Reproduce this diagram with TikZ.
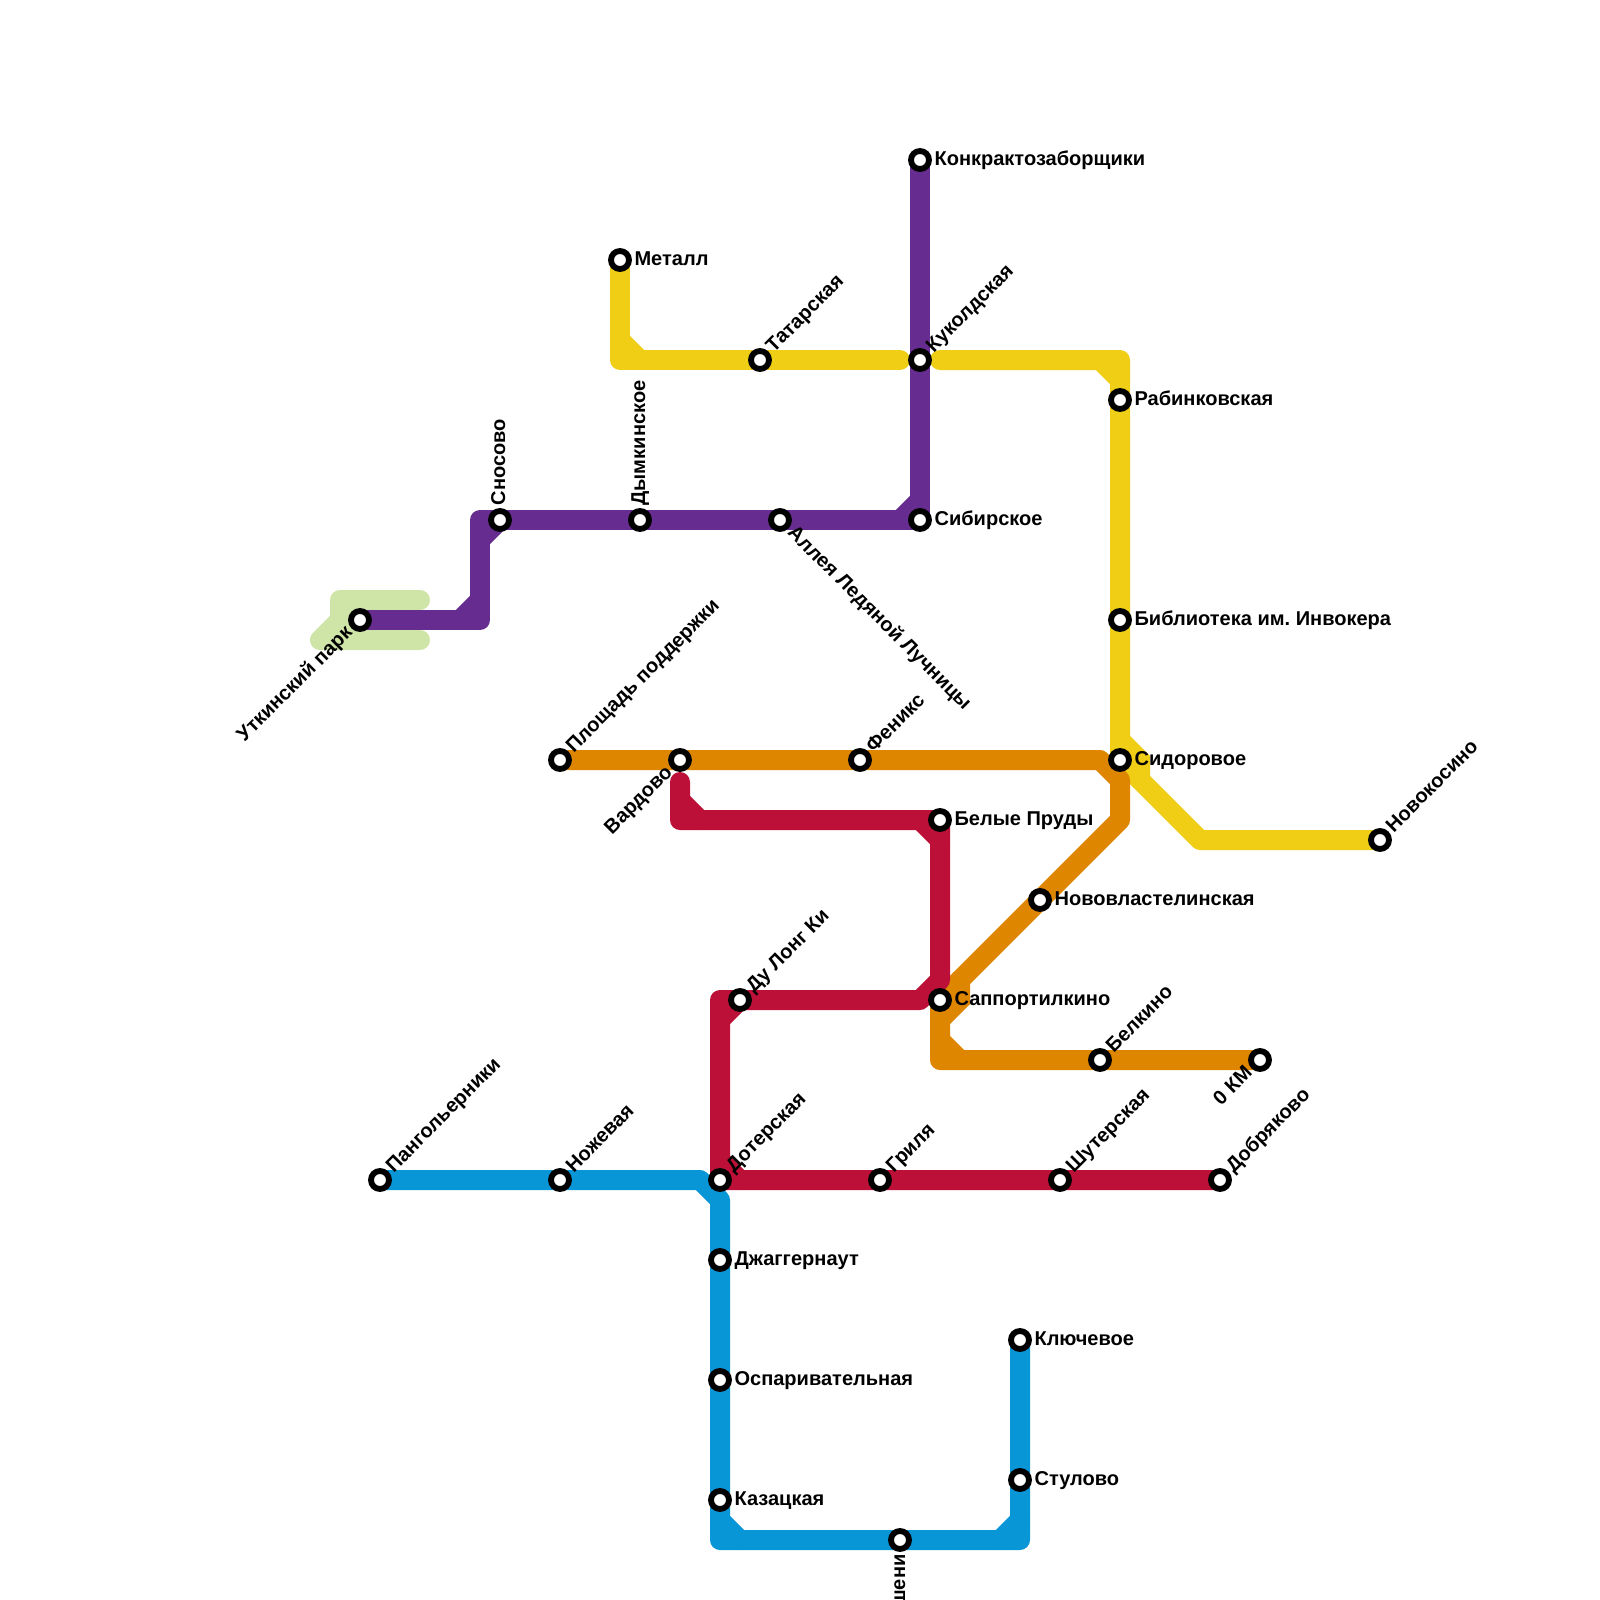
\documentclass[tikz,border=0pt]{standalone}
\usepackage{fontspec}
\setmainfont{Liberation Sans}
\usepackage{tikz}
\usetikzlibrary{backgrounds}
\def\rescale{0.25}
\definecolor{linegreen}{HTML}{CFE4A7}
\definecolor{linepurple}{HTML}{662C90}
\definecolor{lineyellow}{HTML}{F0CE15}
\definecolor{lineorange}{HTML}{DF8600}
\definecolor{linered}{HTML}{BD1038}
\definecolor{lineblue}{HTML}{0896D7}
\tikzset{
  metro/.style={line width=\rescale cm, line cap=round, line join=round},
  stop/.style={circle, draw=black, fill=white, line width=0.073cm, minimum size=0.225cm, inner sep=0pt},
  lbl/.style={font=\fontsize{7.12}{8}\bfseries\selectfont, inner xsep=0.175cm, inner ysep=0pt, text height=0.18cm, text depth=0.055cm}
}

\begin{document}
\begin{tikzpicture}[x=\rescale cm, y=-\rescale cm]

    \useasboundingbox (0, 0) rectangle (80, 80);

\foreach \x/\y/\nm/\txt in {46/8/konk/Конкрактозаборщики, 31/13/metall/Металл, 56/20/rabin/Рабинковская,
    46/26/sibir/Сибирское, 56/31/bibl/Библиотека им.\ Инвокера, 56/38/sidor/Сидоровое,
    47/41/prudy/Белые Пруды, 52/45/novovl/Нововластелинская, 47/50/sapp/Саппортилкино,
    36/63/dzhag/Джаггернаут, 36/69/ospar/Оспаривательная, 36/75/kazak/Казацкая,
    51/67/klyuch/Ключевое, 51/74/stul/Стулово} {
      \node[stop] (\nm) at (\x, \y) {};
      \node[lbl, anchor=west] (\nm-t) at (\nm.center) {\txt};
}

\foreach \x/\y/\nm/\txt in {46/18/kukold/Куколдская, 38/18/tatar/Татарская, 28/38/plosh/Площадь поддержки,
    43/38/feniks/Феникс, 69/42/novokos/Новокосино, 37/50/dulong/Ду Лонг Ки, 55/53/belkino/Белкино,
    19/59/pangol/Пангольерники, 28/59/nozh/Ножевая, 36/59/doter/Дотерская, 44/59/grilya/Гриля,
    53/59/shuter/Шутерская, 61/59/dobr/Добряково} {
      \node[stop] (\nm) at (\x, \y) {};
      \node[lbl, anchor=west, rotate=45] (\nm-t) at (\nm.center) {\txt};
}

\foreach \x/\y/\nm/\txt in {18/31/utkin/Уткинский парк, 34/38/vard/Вардово, 63/53/km/0 КМ} {
      \node[stop] (\nm) at (\x, \y) {};
      \node[lbl, anchor=east, rotate=45] (\nm-t) at (\nm.center) {\txt};
}

\foreach \x/\y/\nm/\txt in {25/26/snos/Сносово, 32/26/dym/Дымкинское} {
      \node[stop] (\nm) at (\x, \y) {};
      \node[lbl, anchor=west, rotate=90] (\nm-t) at (\nm.center) {\txt};
}

    \node[stop] (alleya) at (39, 26) {};
    \node[lbl, anchor=west, rotate=-45] (alleya-t) at (alleya.center) {Аллея Ледяной Лучницы};
    \node[stop] (kish) at (45, 77) {};
    \node[lbl, anchor=east, rotate=90] (kish-t) at (kish.center) {шени};

    % corners of the lines
    \coordinate (gr1) at (21, 30);
    \coordinate (gr2) at (17, 30);
    \coordinate (gr3) at (17, 31);
    \coordinate (gr4) at (16, 32);
    \coordinate (gr5) at (21, 32);
    \coordinate (pu1) at (24, 31);
    \coordinate (pu2) at (24, 26);
    \coordinate (ye1) at (31, 18);
    \coordinate (ye2) at (45, 18);
    \coordinate (ye3) at (47, 18);
    \coordinate (ye4) at (56, 18);
    \coordinate (ye5) at (60, 42);
    \coordinate (or1) at (55, 38);
    \coordinate (or2) at (56, 39);
    \coordinate (or3) at (56, 41);
    \coordinate (or4) at (47, 53);
    \coordinate (re1) at (34, 39.1);
    \coordinate (re2) at (34, 41);
    \coordinate (re5) at (47, 49);
    \coordinate (re6) at (46, 50);
    \coordinate (re7) at (36, 50);
    \coordinate (bl1) at (35, 59);
    \coordinate (bl2) at (36, 60);
    \coordinate (bl3) at (36, 77);
    \coordinate (bl4) at (51, 77);

\begin{pgfonlayer}{background}
    \draw[metro, linegreen] (gr1) -- (gr2) -- (gr3) -- (gr4) -- (gr5);
    \draw[metro, linegreen] (gr3) -- (utkin.center);

    \draw[metro, lineyellow] (metall.center) -- (ye1) -- (ye2);
    \draw[metro, lineyellow] (ye3) -- (ye4) -- (rabin.center) -- (bibl.center) -- (sidor.center) -- (ye5) -- (novokos.center);
    \draw[metro, lineyellow] (31, 17) -- (32, 18);
    \draw[metro, lineyellow] (55, 18) -- (56, 19);
    \draw[metro, lineyellow, line join=miter] (56, 37) -- (57, 38) -- (57, 39);

    \draw[metro, linepurple] (utkin.center) -- (pu1) -- (pu2) -- (snos.center) -- (dym.center) -- (alleya.center) -- (sibir.center) -- (kukold.center) -- (konk.center);
    \draw[metro, linepurple] (23, 31) -- (24, 30);
    \draw[metro, linepurple] (24, 27) -- (25, 26);
    \draw[metro, linepurple] (45, 26) -- (46, 25);

    \draw[metro, lineorange] (plosh.center) -- (vard.center) -- (feniks.center) -- (or1) -- (or2) -- (or3) -- (novovl.center) -- (sapp.center) -- (or4) -- (belkino.center) -- (km.center);
    \draw[metro, lineorange] (47, 52) -- (48, 53);
    \draw[metro, lineorange, line join=miter] (48, 49) -- (48, 50) -- (47, 51);

    \draw[metro, lineblue] (pangol.center) -- (nozh.center) -- (bl1) -- (bl2) -- (dzhag.center) -- (ospar.center) -- (kazak.center) -- (bl3) -- (kish.center) -- (bl4) -- (stul.center) -- (klyuch.center);
    \draw[metro, lineblue] (36, 76) -- (37, 77);
    \draw[metro, lineblue] (50, 77) -- (51, 76);

    \draw[metro, linered] (re1) -- (re2) -- (prudy.center) -- (re5) -- (re6) -- (dulong.center) -- (re7) -- (doter.center) -- (grilya.center) -- (shuter.center) -- (dobr.center);
    \draw[metro, linered] (34, 40) -- (35, 41);
    \draw[metro, linered] (46, 41) -- (47, 42);
    \draw[metro, linered] (36, 51) -- (37, 50);
    \draw[metro, linered] (36, 58) -- (37, 59);
\end{pgfonlayer}

\end{tikzpicture}
\end{document}
